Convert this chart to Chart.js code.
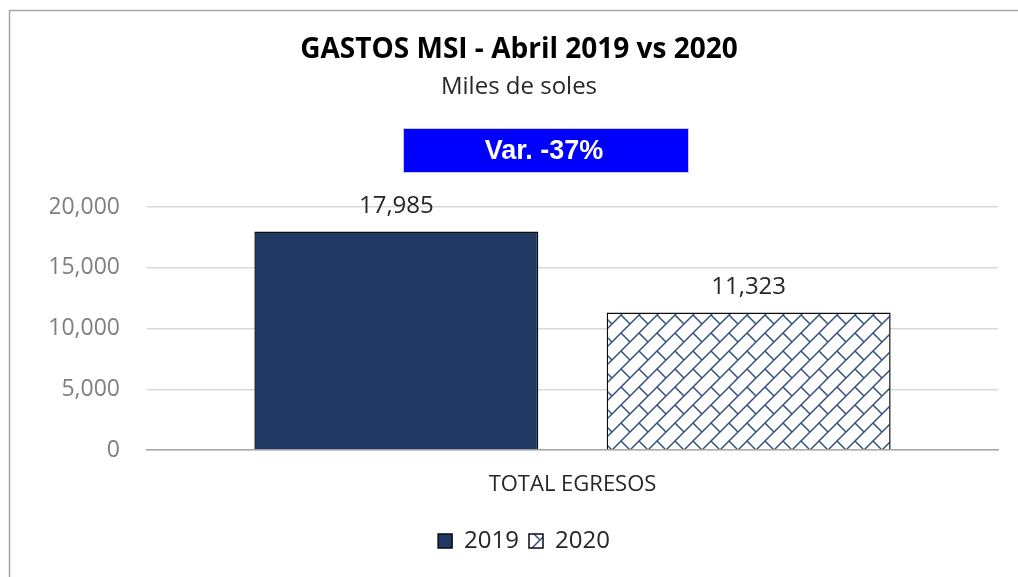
<!DOCTYPE html>
<html><head><meta charset="utf-8">
<script src="https://cdn.jsdelivr.net/npm/chart.js@4"></script>
<style>html,body{margin:0;padding:0;background:#fff}#wrap{position:relative;width:1018px;height:577px}</style>
</head><body>
<div id="wrap"><canvas id="c" width="1018" height="577"></canvas></div>
<script>
const categories = ['TOTAL EGRESOS'];
const seriesNames = ['2019', '2020'];
const values2019 = [17985];
const values2020 = [11323];
const yTicks = [0, 5000, 10000, 15000, 20000];
const titleText = 'GASTOS MSI - Abril 2019 vs 2020';
const subtitleText = 'Miles de soles';
const varText = 'Var. -37%';

function brickPattern(){
  const s = 18;
  const c = document.createElement('canvas'); c.width = s; c.height = s;
  const g = c.getContext('2d');
  g.fillStyle = '#ffffff'; g.fillRect(0,0,s,s);
  g.strokeStyle = '#33507f'; g.lineWidth = 1.5;
  g.beginPath();
  for (const k of [-1,0,1,2]) { g.moveTo(-4, k*s + 4); g.lineTo(s + 4, k*s - s - 4); }
  g.stroke();
  g.beginPath();
  for (const [ox,oy] of [[0,0],[-s,0],[0,-s],[-s,-s],[s,0],[0,s]]) {
    g.moveTo(s/2 + ox, s/2 + oy); g.lineTo(s + ox, s + oy);
  }
  g.stroke();
  return g.createPattern(c, 'repeat');
}

const FONT = '"Open Sans", sans-serif';

const decor = {
  id: 'decor',
  beforeDraw(chart){
    const ctx = chart.ctx;
    ctx.save();
    ctx.fillStyle = '#fff'; ctx.fillRect(0,0,chart.width,chart.height);
    ctx.strokeStyle = '#a6a6a6'; ctx.lineWidth = 1.5;
    ctx.beginPath(); ctx.moveTo(9.5, 600); ctx.lineTo(9.5, 10.5); ctx.lineTo(1100, 10.5); ctx.stroke();
    ctx.textAlign = 'center'; ctx.textBaseline = 'middle';
    ctx.fillStyle = '#000';
    ctx.font = 'bold 28px ' + FONT;
    ctx.fillText(titleText, 519, 50);
    ctx.fillStyle = '#262626';
    ctx.font = '24px ' + FONT;
    ctx.fillText(subtitleText, 519, 87);
    ctx.fillStyle = '#0000ff';
    ctx.fillRect(403, 128, 286, 45);
    ctx.strokeStyle = '#c8c8e0'; ctx.lineWidth = 1;
    ctx.strokeRect(403.5, 128.5, 285, 44);
    ctx.fillStyle = '#fff';
    ctx.font = 'bold 27px "Liberation Sans", Arial, sans-serif';
    ctx.fillText(varText, 544, 152);
    ctx.restore();
  },
  afterDatasetsDraw(chart){
    const ctx = chart.ctx;
    ctx.save();
    ctx.fillStyle = '#262626';
    ctx.font = '24px ' + FONT;
    ctx.textAlign = 'center'; ctx.textBaseline = 'middle';
    chart.data.datasets.forEach((ds, i) => {
      chart.getDatasetMeta(i).data.forEach((bar, j) => {
        ctx.fillText(ds.data[j].toLocaleString('en-US'), bar.x, bar.y - 25);
      });
    });
    ctx.restore();
  }
};

new Chart(document.getElementById('c'), {
  type: 'bar',
  data: {
    labels: categories,
    datasets: [
      { label: seriesNames[0], data: values2019, backgroundColor: '#203864', borderColor: '#0d0d0d', borderWidth: 1.5 },
      { label: seriesNames[1], data: values2020, backgroundColor: brickPattern(), borderColor: '#0d0d0d', borderWidth: 1.5 }
    ]
  },
  options: {
    responsive: false,
    animation: false,
    devicePixelRatio: 1,
    categoryPercentage: 0.828,
    barPercentage: 0.806,
    layout: { padding: { top: 207, right: 20, bottom: 14, left: 50 } },
    plugins: {
      title: { display: false },
      tooltip: { enabled: false },
      legend: {
        position: 'bottom',
        labels: { font: { size: 24, family: FONT }, color: '#262626', boxWidth: 14, boxHeight: 14, padding: 10 }
      }
    },
    scales: {
      x: {
        grid: { display: false, drawTicks: false },
        border: { display: true, color: '#a6a6a6', width: 1.5 },
        ticks: { font: { size: 22, family: FONT }, color: '#262626', padding: 22 },
        afterFit(s){ s.height = 69; }
      },
      y: {
        min: 0, max: 20000,
        afterBuildTicks(s){ s.ticks = yTicks.map(v => ({ value: v })); },
        grid: { color: '#d9d9d9', lineWidth: 1.5, drawTicks: false },
        border: { display: false },
        ticks: { font: { size: 23, family: FONT }, color: '#7f7f7f', padding: 27,
                 callback: v => v.toLocaleString('en-US') },
        afterFit(s){ s.width = 97; }
      }
    }
  },
  plugins: [decor]
});
</script>
</body></html>
